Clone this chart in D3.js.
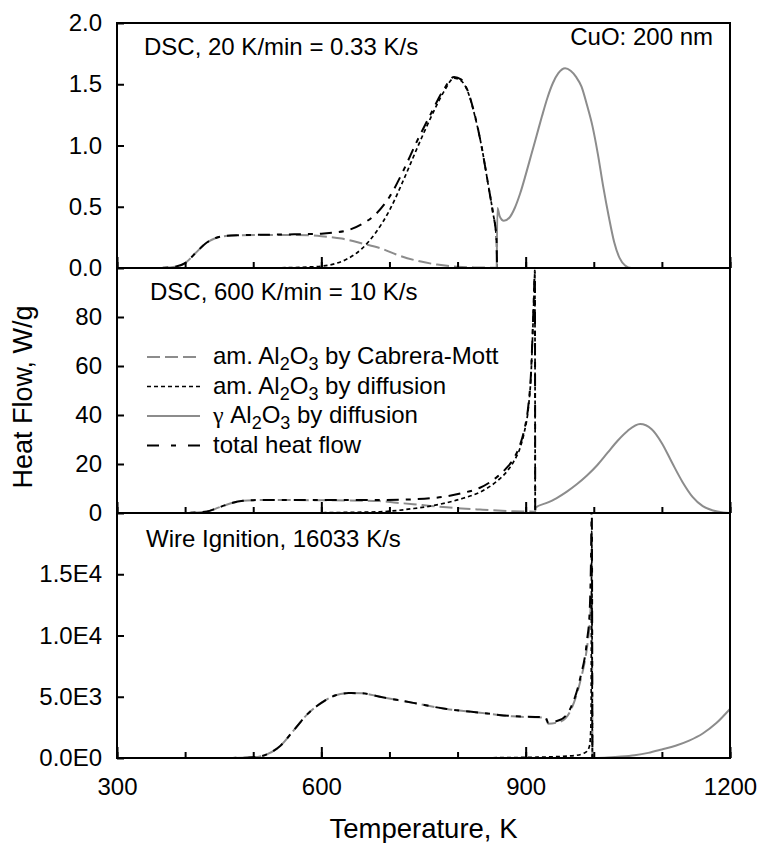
<!DOCTYPE html>
<html>
<head>
<meta charset="utf-8">
<script src="https://cdn.jsdelivr.net/npm/d3@7"></script>
<style>
  body { margin: 0; background: #fff; }
  svg text { font-family: "Liberation Sans", Arial, sans-serif; fill: #000; }
</style>
</head>
<body>
<div id="chart"></div>
<script>
// ---- data (temperature K, heat flow) ----

// DSC, 20 K/min
var dsc20CmT    = [340, 370, 385, 400, 415, 430, 445, 460, 480, 520, 560, 600, 630, 660, 690, 710, 740, 770, 800, 830, 857, 858];
var dsc20CmV    = [0, 0.002, 0.01, 0.04, 0.12, 0.20, 0.245, 0.262, 0.268, 0.27, 0.27, 0.26, 0.24, 0.20, 0.155, 0.11, 0.06, 0.028, 0.01, 0.004, 0.002, 0];
var dsc20DiffT  = [480, 540, 580, 600, 620, 640, 660, 680, 700, 720, 740, 760, 780, 795, 805, 815, 825, 835, 845, 852, 857, 858];
var dsc20DiffV  = [0, 0.002, 0.008, 0.015, 0.035, 0.08, 0.16, 0.29, 0.47, 0.71, 0.97, 1.22, 1.44, 1.55, 1.53, 1.44, 1.25, 1.0, 0.68, 0.45, 0.25, 0];
var dsc20GammaT = [857.5, 858.5, 862, 868, 876, 884, 892, 900, 908, 916, 924, 932, 940, 948, 958, 966, 974, 982, 990, 998, 1006, 1014, 1022, 1030, 1038, 1046, 1055, 1200];
var dsc20GammaV = [0, 0.49, 0.42, 0.385, 0.41, 0.49, 0.61, 0.76, 0.92, 1.08, 1.24, 1.39, 1.51, 1.59, 1.63, 1.61, 1.56, 1.48, 1.33, 1.16, 0.93, 0.66, 0.42, 0.21, 0.08, 0.02, 0, 0];
var dsc20TotalT = [340, 370, 385, 400, 415, 430, 445, 460, 480, 520, 560, 600, 620, 640, 660, 680, 700, 720, 740, 760, 780, 795, 805, 815, 825, 835, 845, 852, 857, 858];
var dsc20TotalV = [0, 0.002, 0.01, 0.04, 0.12, 0.20, 0.245, 0.262, 0.268, 0.272, 0.275, 0.28, 0.29, 0.31, 0.36, 0.44, 0.58, 0.79, 1.03, 1.25, 1.46, 1.56, 1.54, 1.445, 1.255, 1.0, 0.68, 0.45, 0.25, 0];

// DSC, 600 K/min
var dsc600CmT    = [380, 400, 415, 432, 445, 458, 470, 485, 500, 540, 600, 640, 686, 710, 735, 760, 784, 833, 882, 912, 913];
var dsc600CmV    = [0, 0.05, 0.2, 0.6, 1.8, 3.1, 4.2, 5.0, 5.25, 5.3, 5.2, 5.1, 4.85, 4.2, 3.6, 2.9, 2.3, 1.4, 0.7, 0.5, 0];
var dsc600DiffT  = [540, 600, 640, 686, 735, 760, 784, 808, 833, 857, 872, 882, 892, 898, 904, 908, 910, 912, 913.5, 914];
var dsc600DiffV  = [0, 0.1, 0.25, 0.5, 1.8, 2.8, 4.2, 6.0, 8.5, 12.8, 16.8, 20.8, 26.8, 33, 43, 57, 71, 87, 98, 0];
var dsc600GammaT = [913.6, 915, 930, 945, 960, 975, 990, 1005, 1020, 1035, 1050, 1068, 1085, 1100, 1115, 1130, 1145, 1160, 1175, 1190, 1200];
var dsc600GammaV = [0, 2.3, 4.0, 6.0, 8.6, 11.7, 15.3, 19.5, 24.5, 29.5, 33.6, 36.3, 34.2, 28.5, 20.5, 12.8, 6.6, 2.8, 1.0, 0.2, 0];
var dsc600TotalT = [380, 400, 415, 432, 445, 458, 470, 485, 500, 540, 600, 640, 686, 735, 760, 784, 808, 833, 857, 872, 882, 892, 898, 904, 908, 910, 912, 913.5, 914];
var dsc600TotalV = [0, 0.05, 0.2, 0.6, 1.8, 3.1, 4.2, 5.0, 5.25, 5.3, 5.3, 5.35, 5.3, 5.6, 6.0, 6.8, 8.2, 10.3, 14.5, 18.4, 22, 28, 34, 44, 58, 72, 88, 99, 0];

// Wire ignition, 16033 K/s
var wireCmT    = [440, 470, 500, 520, 540, 560, 580, 600, 620, 640, 660, 686, 735, 784, 833, 880, 929, 933, 950, 965, 980, 990, 994, 997, 998];
var wireCmV    = [0, 10, 60, 300, 1000, 2300, 3600, 4500, 5100, 5300, 5280, 5000, 4500, 4000, 3700, 3400, 3280, 2800, 2950, 3770, 6230, 9000, 10900, 13400, 0];
var wireDiffT  = [780, 850, 900, 940, 960, 975, 985, 990, 994, 996, 997, 998, 1200];
var wireDiffV  = [0, 20, 50, 100, 150, 220, 380, 550, 1050, 3000, 18500, 0, 0];
var wireGammaT = [998, 1020, 1040, 1060, 1080, 1100, 1120, 1140, 1160, 1180, 1200];
var wireGammaV = [0, 50, 120, 230, 420, 700, 1000, 1420, 2000, 2850, 4000];
var wireTotalT = [440, 470, 500, 520, 540, 560, 580, 600, 620, 640, 660, 686, 735, 784, 833, 880, 929, 933, 950, 965, 980, 990, 994, 996, 997, 998];
var wireTotalV = [0, 10, 60, 300, 1000, 2300, 3600, 4500, 5100, 5300, 5280, 5000, 4500, 4000, 3700, 3420, 3330, 2900, 3100, 3970, 6500, 9550, 12000, 16500, 21000, 0];

// axes
var xMinorTicks = d3.range(300, 1201, 100);
var xMajorTicks = [300, 600, 900, 1200];
var dsc20Ticks = [0, 0.5, 1.0, 1.5, 2.0];
var dsc600Ticks = [0, 20, 40, 60, 80];
var wireTicks = [0, 5000, 10000, 15000];

// legend text: [piece, 1 = subscript, 2 = greek]
var legendLabels = [
  [["am. Al", 0], ["2", 1], ["O", 0], ["3", 1], [" by Cabrera-Mott", 0]],
  [["am. Al", 0], ["2", 1], ["O", 0], ["3", 1], [" by diffusion", 0]],
  [["\u03b3", 2], [" Al", 0], ["2", 1], ["O", 0], ["3", 1], [" by diffusion", 0]],
  [["total heat flow", 0]]
];

// ---- layout ----
var chartW = 763, chartH = 843;
var plotLeft = 117, plotRight = 730, plotTop = 23, panelH = 245;

var styles = {
  cm:    { stroke: "#8c8c8c", width: 2,   dash: "13,5" },
  diff:  { stroke: "#000",    width: 1.7, dash: "4,3" },
  gamma: { stroke: "#8c8c8c", width: 2,   dash: null },
  total: { stroke: "#000",    width: 2,   dash: "12,7,5,7" }
};

function zip(t, v) {
  return t.map(function (d, i) { return [d, v[i]]; });
}

var panels = [
  { domain: [0, 2], ticks: dsc20Ticks, fmt: d3.format(".1f"),
    series: [["cm", zip(dsc20CmT, dsc20CmV)], ["diff", zip(dsc20DiffT, dsc20DiffV)],
             ["gamma", zip(dsc20GammaT, dsc20GammaV)], ["total", zip(dsc20TotalT, dsc20TotalV)]] },
  { domain: [0, 100], ticks: dsc600Ticks, fmt: d3.format("d"),
    series: [["cm", zip(dsc600CmT, dsc600CmV)], ["diff", zip(dsc600DiffT, dsc600DiffV)],
             ["gamma", zip(dsc600GammaT, dsc600GammaV)], ["total", zip(dsc600TotalT, dsc600TotalV)]] },
  { domain: [0, 20000], ticks: wireTicks,
    fmt: function (v) { return d3.format(".1e")(v).replace("e+", "E"); },
    series: [["cm", zip(wireCmT, wireCmV)], ["diff", zip(wireDiffT, wireDiffV)],
             ["gamma", zip(wireGammaT, wireGammaV)], ["total", zip(wireTotalT, wireTotalV)]] }
];

var x = d3.scaleLinear().domain([300, 1200]).range([plotLeft, plotRight]);

var svg = d3.select("#chart").append("svg")
    .attr("width", chartW)
    .attr("height", chartH);

panels.forEach(function (p, i) {
  var y0 = plotTop + i * panelH;
  var y = d3.scaleLinear().domain(p.domain).range([y0 + panelH, y0]);
  var g = svg.append("g");

  svg.append("clipPath").attr("id", "clip" + i)
    .append("rect")
    .attr("x", plotLeft).attr("y", y0)
    .attr("width", plotRight - plotLeft).attr("height", panelH);

  var line = d3.line()
      .x(function (d) { return x(d[0]); })
      .y(function (d) { return y(d[1]); })
      .curve(d3.curveMonotoneX);

  var curves = g.append("g").attr("clip-path", "url(#clip" + i + ")");
  p.series.forEach(function (s) {
    var st = styles[s[0]];
    curves.append("path")
      .attr("d", line(s[1]))
      .attr("fill", "none")
      .attr("stroke", st.stroke)
      .attr("stroke-width", st.width)
      .attr("stroke-dasharray", st.dash);
  });

  // minor and major bottom ticks (inward)
  var bottom = g.append("g").attr("transform", "translate(0," + (y0 + panelH) + ")");
  bottom.append("g")
    .call(d3.axisBottom(x).tickValues(xMinorTicks).tickSize(-6).tickFormat(""));
  bottom.append("g")
    .call(d3.axisBottom(x).tickValues(xMajorTicks).tickSize(-11).tickPadding(20)
      .tickFormat(i === 2 ? d3.format("d") : ""));

  g.append("g")
    .attr("transform", "translate(" + plotLeft + ",0)")
    .call(d3.axisLeft(y).tickValues(p.ticks).tickSize(-7).tickPadding(15).tickFormat(p.fmt));

  g.selectAll(".domain").remove();
  g.selectAll(".tick line").attr("stroke", "#000").attr("stroke-width", 2);
  g.selectAll(".tick text").attr("font-size", 24).attr("font-family", null);

  g.append("rect")
    .attr("x", plotLeft).attr("y", y0)
    .attr("width", plotRight - plotLeft).attr("height", panelH)
    .attr("fill", "none")
    .attr("stroke", "#000")
    .attr("stroke-width", 2);
});

// panel notes
svg.append("text").attr("x", 144).attr("y", 55).attr("font-size", 24)
  .text("DSC, 20 K/min = 0.33 K/s");
svg.append("text").attr("x", 713).attr("y", 45).attr("font-size", 24)
  .attr("text-anchor", "end").text("CuO: 200 nm");
svg.append("text").attr("x", 150).attr("y", 300).attr("font-size", 24)
  .text("DSC, 600 K/min = 10 K/s");
svg.append("text").attr("x", 146).attr("y", 547).attr("font-size", 24)
  .text("Wire Ignition, 16033 K/s");

// legend
var legend = svg.append("g");
var legendKeys = ["cm", "diff", "gamma", "total"];
legendKeys.forEach(function (k, i) {
  var ly = 357 + i * 29.5;
  var st = styles[k];
  legend.append("line")
    .attr("x1", 147).attr("x2", 200)
    .attr("y1", ly).attr("y2", ly)
    .attr("stroke", st.stroke)
    .attr("stroke-width", st.width)
    .attr("stroke-dasharray", k === "total" ? "12,12,5,12" : st.dash);
  var t = legend.append("text")
    .attr("x", 213).attr("y", ly + 7)
    .attr("font-size", 24);
  var shifted = 0;
  legendLabels[i].forEach(function (part) {
    var kind = part[1];
    var ts = t.append("tspan")
      .attr("dy", kind === 1 ? 6 - shifted : -shifted)
      .attr("font-size", kind === 1 ? 18 : 24)
      .text(part[0]);
    if (kind === 2) ts.style("font-family", "'Liberation Serif', serif");
    shifted = kind === 1 ? 6 : 0;
  });
});

// axis titles
svg.append("text")
  .attr("transform", "translate(32,397) rotate(-90)")
  .attr("text-anchor", "middle")
  .attr("font-size", 27)
  .text("Heat Flow, W/g");
svg.append("text")
  .attr("x", (plotLeft + plotRight) / 2).attr("y", 838)
  .attr("text-anchor", "middle")
  .attr("font-size", 27.5)
  .text("Temperature, K");
</script>
</body>
</html>
